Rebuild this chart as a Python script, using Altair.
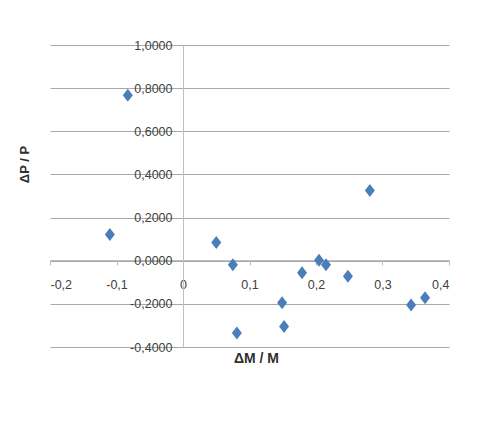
import altair as alt
import pandas as pd

# Data
dm = [-0.083, -0.110, 0.050, 0.075, 0.081, 0.149, 0.152, 0.179, 0.2045, 0.215, 0.248, 0.281, 0.343, 0.364]
dp = [0.767, 0.121, 0.084, -0.019, -0.335, -0.195, -0.305, -0.056, 0.002, -0.019, -0.072, 0.326, -0.205, -0.172]

x_ticks = [-0.2, -0.1, 0.0, 0.1, 0.2, 0.3, 0.4]
y_ticks = [-0.4, -0.2, 0.0, 0.2, 0.4, 0.6, 0.8, 1.0]

df = pd.DataFrame({"dm": dm, "dp": dp})

FONT = "Liberation Sans"
GRID = "#A8A8A8"
AXIS = "#BFBFBF"

x_label = "datum.value == 0 ? '0' : (datum.value < 0 ? '-' : '') + replace(format(abs(datum.value), '.1f'), '.', ',')"
y_label = "(datum.value < -0.00001 ? '-' : '') + replace(format(abs(datum.value), '.4f'), '.', ',')"

chart = alt.Chart(df).mark_point(
    shape="M0,-1.3L1,0L0,1.3L-1,0Z",
    size=100,
    filled=True,
    opacity=1,
    color="#4A7EBB",
).encode(
    x=alt.X(
        "dm:Q",
        scale=alt.Scale(domain=[-0.2, 0.4], nice=False, zero=False),
        axis=alt.Axis(
            values=x_ticks,
            offset=-87,
            grid=False,
            domainColor=AXIS,
            tickColor=AXIS,
            tickSize=5,
            labelPadding=13,
            labelExpr=x_label,
            labelFont=FONT,
            labelFontSize=12.5,
            labelColor="#404040",
            title="ΔM / M",
            titleFont=FONT,
            titleFontSize=14,
            titleFontWeight="bold",
            titleColor="#303030",
            titleX=206,
            titleY=98,
            titleBaseline="middle",
            titleAlign="center",
        ),
    ),
    y=alt.Y(
        "dp:Q",
        scale=alt.Scale(domain=[-0.4, 1.0], nice=False, zero=False),
        axis=alt.Axis(
            values=y_ticks,
            offset=-133,
            grid=True,
            gridColor=GRID,
            gridWidth=1,
            domainColor=AXIS,
            ticks=False,
            tickSize=0,
            labelPadding=11,
            labelExpr=y_label,
            labelFont=FONT,
            labelFontSize=12.5,
            labelColor="#404040",
            title="ΔP / P",
            titleFont=FONT,
            titleFontSize=13,
            titleFontWeight="bold",
            titleColor="#303030",
            titleX=-159,
            titleY=119,
            titleBaseline="middle",
            titleAlign="center",
            titleAngle=-90,
        ),
    ),
).properties(
    width=399,
    height=302,
    autosize=alt.AutoSizeParams(type="none"),
    padding={"left": 42, "top": 37, "right": 23, "bottom": 68},
).configure_view(strokeWidth=0)

chart.save("out.html", embed_options={"renderer": "svg", "actions": False})
